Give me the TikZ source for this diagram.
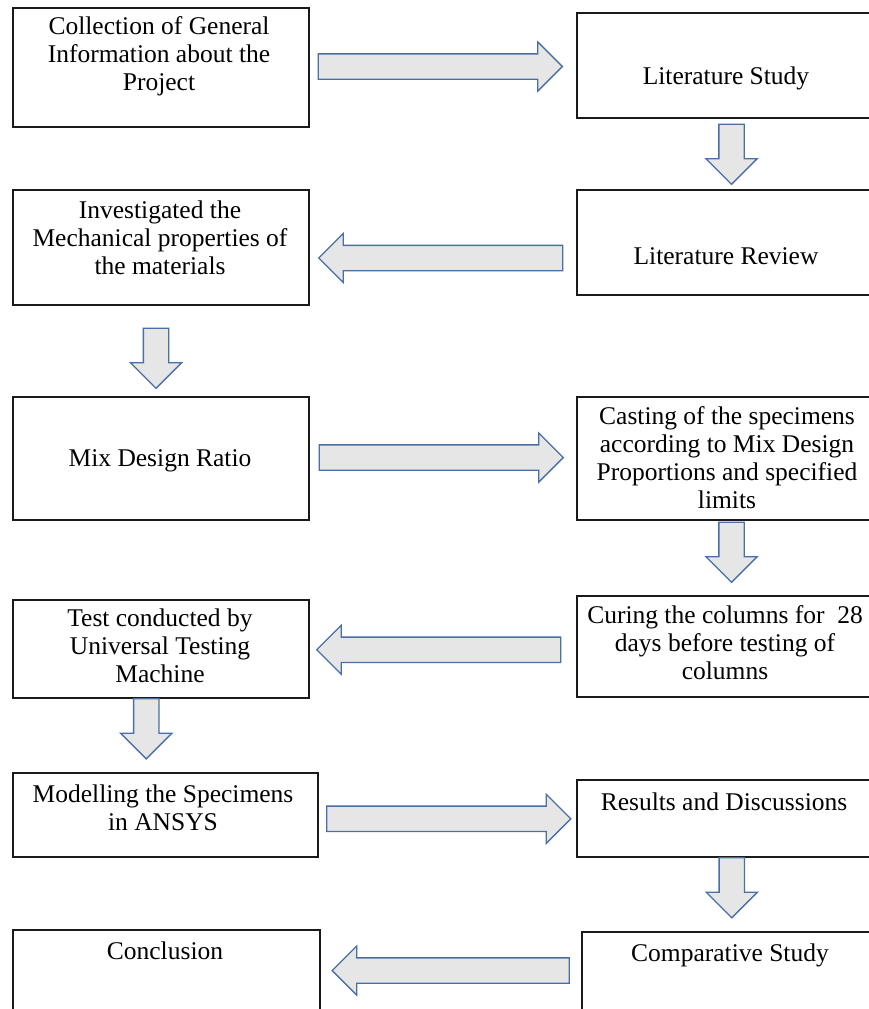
\documentclass[tikz,border=0pt]{standalone}
\usepackage{fontspec}
\setmainfont{Liberation Serif}
\usetikzlibrary{calc,shapes.arrows}
\definecolor{edge}{HTML}{1A1A1A}
\definecolor{arrline}{HTML}{4A6FA5}
\definecolor{arrfill}{HTML}{E6E6E6}
\tikzset{
  stage/.style={draw=edge, line width=1.6pt, inner sep=0pt},
  lab/.style={align=center, inner sep=0pt, font=\fontsize{25.5}{28}\selectfont},
  flow/.style={single arrow, draw=arrline, fill=arrfill, line width=1.3pt, line join=miter,
    inner xsep=0pt, single arrow head indent=0pt},
  hflow/.style={flow, minimum height=244pt, inner ysep=12pt, single arrow head extend=12pt},
  vflow/.style={flow, rotate=-90, minimum height=60pt, inner ysep=12pt, single arrow head extend=13pt},
}

\begin{document}
\begin{tikzpicture}[x=1pt, y=-1pt]
  \useasboundingbox (0,0) rectangle (869,1009);
  \clip (0,0) rectangle (869,1009);
  \fill[white] (0,0) rectangle (869,1009);

  % left column
  \node[stage, minimum width=296pt, minimum height=119pt] (coll) at (161,67.5) {};
  \node[stage, minimum width=296pt, minimum height=115pt] (invest) at (161,247.5) {};
  \node[stage, minimum width=296pt, minimum height=123pt] (mix) at (161,458.5) {};
  \node[stage, minimum width=296pt, minimum height=98pt] (test) at (161,649) {};
  \node[stage, minimum width=305pt, minimum height=84pt] (model) at (165.5,815) {};
  \node[stage, minimum width=307pt, minimum height=100pt] (concl) at (166.5,980) {};

  % right column
  \node[stage, minimum width=303pt, minimum height=105pt] (lstudy) at (728.5,65.5) {};
  \node[stage, minimum width=303pt, minimum height=105pt] (lreview) at (728.5,242.5) {};
  \node[stage, minimum width=303pt, minimum height=123pt] (cast) at (728.5,458.5) {};
  \node[stage, minimum width=303pt, minimum height=101pt] (cure) at (728.5,646.5) {};
  \node[stage, minimum width=303pt, minimum height=77pt] (result) at (728.5,818.5) {};
  \node[stage, minimum width=298pt, minimum height=98pt] (comp) at (731,981) {};

  % texts
  \node[lab] (tcoll) at (159,56) {Collection of General\\Information about the\\Project};
  \node[lab] (tinvest) at (160,238) {Investigated the\\Mechanical properties of\\the materials};
  \node[lab] (tmix) at (160,461) {Mix Design Ratio};
  \node[lab] (ttest) at (160,646) {Test conducted by\\Universal Testing\\Machine};
  \node[lab] (tmodel) at (163,808) {Modelling the Specimens\\in ANSYS};
  \node[lab] (tconcl) at (165,951) {Conclusion};
  \node[lab] (tlstudy) at (726,78) {Literature Study};
  \node[lab] (tlreview) at (726,256) {Literature Review};
  \node[lab] (tcast) at (727,458) {Casting of the specimens\\according to Mix Design\\Proportions and specified\\limits};
  \node[lab] (tcure) at (725,643) {Curing the columns for~~28\\days before testing of\\columns};
  \node[lab] (tresult) at (724,802) {Results and Discussions};
  \node[lab] (tcomp) at (730,955) {Comparative Study};

  % block arrows
  \node[hflow] (a1) at ($(coll.east)!0.5!(lstudy.west)+(-9,0)$) {};
  \node[vflow] (a2) at ($(lstudy.south)!0.5!(lreview.north)+(3,-6)$) {};
  \node[hflow, rotate=180] (a3) at ($(lreview.west)!0.5!(invest.east)+(4,13)$) {};
  \node[vflow] (a4) at ($(invest.south)!0.5!(mix.north)+(-5,1)$) {};
  \node[hflow] (a5) at ($(mix.east)!0.5!(cast.west)+(-8,-1)$) {};
  \node[vflow] (a6) at ($(cast.south)!0.5!(cure.north)+(3,-12)$) {};
  \node[hflow, rotate=180] (a7) at ($(cure.west)!0.5!(test.east)+(2,2)$) {};
  \node[vflow] (a8) at ($(test.south)!0.5!(model.north)+(-17,-13)$) {};
  \node[hflow] (a9) at ($(model.east)!0.5!(result.west)+(-5,2)$) {};
  \node[vflow] (a10) at ($(result.south)!0.5!(comp.north)+(2,-13)$) {};
  \node[hflow, rotate=180, minimum height=237pt] (a11) at ($(comp.west)!0.5!(concl.east)+(6,-10)$) {};
\end{tikzpicture}
\end{document}
